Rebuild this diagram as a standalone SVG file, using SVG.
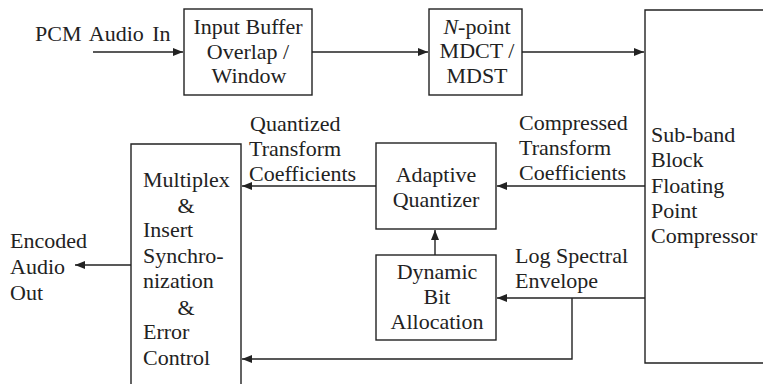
<svg xmlns="http://www.w3.org/2000/svg" width="763" height="384" viewBox="0 0 763 384">
<style>
.box{fill:none;stroke:#222;stroke-width:1.4}
.ln{fill:none;stroke:#222;stroke-width:1.4}
text{font-family:"Liberation Serif","Times New Roman",serif;font-size:22px;fill:#222}
.c{text-anchor:middle}
</style>
<defs>
<marker id="ah" viewBox="0 0 10 8" refX="10" refY="4" markerWidth="10" markerHeight="8" markerUnits="userSpaceOnUse" orient="auto">
<path d="M0,0 L10,4 L0,8 z" fill="#222"/>
</marker>
</defs>
<rect width="763" height="384" fill="#fff"/>
<g id="connectors">
<line class="ln" x1="93" y1="52" x2="183" y2="52" marker-end="url(#ah)"/>
<line class="ln" x1="312" y1="52" x2="428" y2="52" marker-end="url(#ah)"/>
<line class="ln" x1="522" y1="52" x2="644" y2="52" marker-end="url(#ah)"/>
<line class="ln" x1="645" y1="186" x2="497" y2="186" marker-end="url(#ah)"/>
<line class="ln" x1="376" y1="186" x2="242" y2="186" marker-end="url(#ah)"/>
<line class="ln" x1="645" y1="298" x2="497" y2="298" marker-end="url(#ah)"/>
<line class="ln" x1="435" y1="255" x2="435" y2="230" marker-end="url(#ah)"/>
<polyline class="ln" points="572,298 572,359 242,359" marker-end="url(#ah)"/>
<line class="ln" x1="131" y1="265" x2="75" y2="265" marker-end="url(#ah)"/>
</g>
<g id="pcm-in"><text x="35" y="41" word-spacing="3">PCM Audio In</text></g>
<g id="input-buffer">
<rect class="box" x="184" y="9" width="128" height="86"/>
<text class="c" x="248" y="34">Input Buffer</text>
<text class="c" x="248" y="59">Overlap /</text>
<text class="c" x="249" y="83">Window</text>
</g>
<g id="mdct">
<rect class="box" x="429" y="9" width="93" height="86"/>
<text class="c" x="477" y="34"><tspan font-style="italic">N</tspan>-point</text>
<text class="c" x="477" y="58">MDCT /</text>
<text class="c" x="477" y="83">MDST</text>
</g>
<g id="compressor">
<path class="box" d="M770,10 H645 V363 H770"/>
<text x="651" y="142">Sub-band</text>
<text x="651" y="167">Block</text>
<text x="651" y="193">Floating</text>
<text x="651" y="218">Point</text>
<text x="651" y="243">Compressor</text>
</g>
<g id="adaptive-quantizer">
<rect class="box" x="376" y="143" width="120" height="86"/>
<text class="c" x="436" y="182">Adaptive</text>
<text class="c" x="436" y="207">Quantizer</text>
</g>
<g id="bit-allocation">
<rect class="box" x="376" y="255" width="120" height="85"/>
<text class="c" x="437" y="279">Dynamic</text>
<text class="c" x="437" y="304">Bit</text>
<text class="c" x="437" y="329">Allocation</text>
</g>
<g id="multiplex">
<path class="box" d="M131,390 V144 H241 V390"/>
<text x="143" y="187">Multiplex</text>
<text class="c" x="186" y="213">&amp;</text>
<text x="143" y="237">Insert</text>
<text x="143" y="263">Synchro-</text>
<text x="143" y="288">nization</text>
<text class="c" x="186" y="315">&amp;</text>
<text x="143" y="339">Error</text>
<text x="143" y="365">Control</text>
</g>
<g id="labels">
<text x="250" y="131">Quantized</text>
<text x="249" y="156">Transform</text>
<text x="249" y="181">Coefficients</text>
<text x="519" y="130">Compressed</text>
<text x="519" y="155">Transform</text>
<text x="519" y="180">Coefficients</text>
<text x="515" y="263">Log Spectral</text>
<text x="515" y="288">Envelope</text>
<text x="10" y="248">Encoded</text>
<text x="10" y="274">Audio</text>
<text x="10" y="300">Out</text>
</g>
</svg>
